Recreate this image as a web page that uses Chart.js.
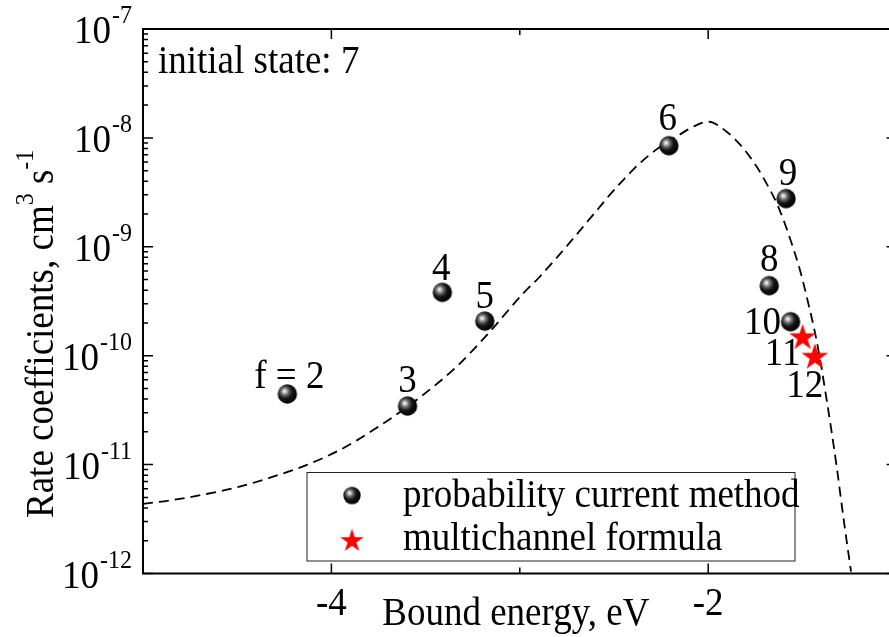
<!DOCTYPE html>
<html>
<head>
<meta charset="utf-8">
<title>Rate coefficients vs bound energy</title>
<script src="https://cdn.jsdelivr.net/npm/chart.js@4.4.0/dist/chart.umd.min.js"></script>
<style>
  html, body { margin: 0; padding: 0; overflow: hidden; background: #fff; }
</style>
</head>
<body>
<canvas id="rateChart" width="889" height="637"></canvas>
<script>
// ── data: bound energy (eV) vs rate coefficient (cm^3 s^-1) ──

// probability current method (final states f)
const stateLabels = ['f = 2', '3', '4', '5', '6', '9', '8', '10'];
const stateEnergy = [-4.234, -3.596, -3.411, -3.186, -2.209, -1.587, -1.676, -1.563];
const stateRate = [4.45e-11, 3.45e-11, 3.82e-10, 2.08e-10, 8.48e-9, 2.77e-9, 4.40e-10, 2.05e-10];

// multichannel formula
const formulaLabels = ['11', '12'];
const formulaEnergy = [-1.499, -1.434];
const formulaRate = [1.48e-10, 9.8e-11];

// dashed curve
const curveEnergy = [-5.0, -4.841, -4.664, -4.487, -4.310, -4.133, -3.956, -3.867, -3.761, -3.673,
    -3.514, -3.336, -3.159, -2.982, -2.894, -2.575, -2.531, -2.451, -2.363, -2.266,
    -2.168, -2.062, -2.000, -1.902, -1.814, -1.743, -1.681, -1.628, -1.575, -1.513,
    -1.478, -1.424, -1.371, -1.318, -1.283, -1.242];
const curveRate = [4.35e-12, 4.73e-12, 5.37e-12, 6.27e-12, 7.74e-12, 9.9e-12, 1.36e-11, 1.66e-11, 2.17e-11, 2.74e-11,
    4.36e-11, 7.92e-11, 1.66e-10, 3.74e-10, 5.31e-10, 2.33e-9, 2.88e-9, 4.10e-9, 5.85e-9, 8.02e-9,
    1.03e-8, 1.31e-8, 1.41e-8, 1.14e-8, 8.02e-9, 5.45e-9, 3.56e-9, 2.33e-9, 1.33e-9, 6.12e-10,
    3.53e-10, 1.36e-10, 3.92e-11, 9.57e-12, 3.33e-12, 1.04e-12];

// axis range: the frame runs from -5 to -1 eV, the picture is cut just before -1
const xFrame = [-5, -1];
const xView = [-5, -1.0403];
const xTicks = [-4, -2];
const yTicks = [1e-12, 1e-11, 1e-10, 1e-9, 1e-8, 1e-7];
const noteText = 'initial state: 7';
const xTitle = 'Bound energy, eV';

const FONT = "'Liberation Serif', 'Times New Roman', serif";
const TEXT_STRETCH = 1.06; // glyphs in the figure are a little taller than wide

// label placement relative to each marker: [dx, dy(baseline)]
const stateLabelOffsets = [[2, -6], [0, -14], [-1, -12], [0, -13], [-1, -16], [2, -14], [0, -15], [-28, 12]];
const formulaLabelOffsets = [[-20, 28], [-10, 40]];

// shaded ball marker
function makeSphere(r) {
    const s = Math.ceil(r * 2) + 2;
    const c = document.createElement('canvas');
    c.width = c.height = s;
    const g = c.getContext('2d');
    const cx = s / 2, cy = s / 2;
    const grad = g.createRadialGradient(cx - r * 0.3, cy - r * 0.3, 0, cx - r * 0.2, cy - r * 0.2, r * 1.2);
    grad.addColorStop(0, '#ffffff');
    grad.addColorStop(0.12, '#d4d4d4');
    grad.addColorStop(0.32, '#6e6e6e');
    grad.addColorStop(0.6, '#161616');
    grad.addColorStop(1, '#000000');
    g.fillStyle = grad;
    g.beginPath();
    g.arc(cx, cy, r, 0, Math.PI * 2);
    g.fill();
    return c;
}

// filled five-point star marker
function makeStar(R, color) {
    const s = Math.ceil(R * 2) + 2;
    const c = document.createElement('canvas');
    c.width = c.height = s;
    const g = c.getContext('2d');
    const cx = s / 2, cy = s / 2 + R * 0.05;
    g.fillStyle = color;
    g.beginPath();
    for (let i = 0; i < 10; i++) {
        const ang = -Math.PI / 2 + i * Math.PI / 5;
        const rad = i % 2 ? R * 0.382 : R;
        g.lineTo(cx + rad * Math.cos(ang), cy + rad * Math.sin(ang));
    }
    g.closePath();
    g.fill();
    return c;
}

const sphere = makeSphere(9.7);
const star = makeStar(14, '#ff0000');
const legendSphere = makeSphere(8.7);
const legendStar = makeStar(12.3, '#ff0000');

function text(ctx, s, x, y, size, align) {
    ctx.font = size + 'px ' + FONT;
    ctx.textAlign = align || 'left';
    ctx.textBaseline = 'alphabetic';
    ctx.save();
    ctx.translate(x, y);
    ctx.scale(1, TEXT_STRETCH);
    ctx.fillText(s, 0, 0);
    ctx.restore();
}

// frame, inward ticks, labels, legend box
const framePlugin = {
    id: 'frame',
    afterDatasetsDraw(chart) {
        const { ctx, chartArea: a, scales: { x, y } } = chart;
        const left = x.getPixelForValue(xFrame[0]);
        const right = x.getPixelForValue(xFrame[1]);
        ctx.save();
        ctx.strokeStyle = '#000';
        ctx.fillStyle = '#000';

        ctx.lineWidth = 1.5;
        ctx.beginPath();
        for (let v = xFrame[0]; v <= xFrame[1]; v++) {
            const px = x.getPixelForValue(v);
            const len = xTicks.includes(v) ? 10 : 6;
            ctx.moveTo(px, a.bottom); ctx.lineTo(px, a.bottom - len);
            ctx.moveTo(px, a.top); ctx.lineTo(px, a.top + len);
        }
        yTicks.forEach((base) => {
            for (let k = 1; k <= 9; k++) {
                const v = base * k;
                if (v > y.max * 1.0001) break;
                const py = y.getPixelForValue(v);
                const len = k === 1 ? 10 : 5;
                ctx.moveTo(left, py); ctx.lineTo(left + len, py);
                ctx.moveTo(right, py); ctx.lineTo(right - len, py);
            }
        });
        ctx.stroke();

        ctx.lineWidth = 2;
        ctx.strokeRect(left, a.top, right - left, a.bottom - a.top);

        // y tick labels 10^n
        yTicks.forEach((v) => {
            const py = y.getPixelForValue(v);
            const exp = String(Math.round(Math.log10(v)));
            ctx.font = '24px ' + FONT;
            const we = ctx.measureText(exp).width;
            const r = left - 11;
            text(ctx, exp, r, py - 6, 24, 'right');
            text(ctx, '10', r - we - 1, py + 14, 37, 'right');
        });

        // x tick labels
        xTicks.forEach((v) => {
            text(ctx, String(v), x.getPixelForValue(v), a.bottom + 41, 37, 'center');
        });

        // axis titles
        text(ctx, xTitle, (left + right) / 2 - 4, a.bottom + 51.5, 37, 'center');

        ctx.save();
        ctx.translate(left - 90, a.bottom - 55.5);
        ctx.rotate(-Math.PI / 2);
        let cx = 0;
        const parts = [['Rate coefficients, cm', 37, 0], ['3', 24, -20], [' s', 37, 0], ['-1', 24, -20]];
        parts.forEach(([s, size, dy]) => {
            text(ctx, s, cx, dy, size, 'left');
            cx += ctx.measureText(s).width;
        });
        ctx.restore();

        text(ctx, noteText, left + 15, a.top + 44, 37, 'left');

        // point labels
        const m0 = chart.getDatasetMeta(0).data;
        stateLabels.forEach((s, i) => {
            const [dx, dy] = stateLabelOffsets[i];
            text(ctx, s, m0[i].x + dx, m0[i].y + dy, 37, 'center');
        });
        const m1 = chart.getDatasetMeta(1).data;
        formulaLabels.forEach((s, i) => {
            const [dx, dy] = formulaLabelOffsets[i];
            text(ctx, s, m1[i].x + dx, m1[i].y + dy, 37, 'center');
        });

        // legend box
        const lg = { left: left + 164, top: a.bottom - 101, w: 488, h: 88.5 };
        ctx.fillStyle = '#fff';
        ctx.fillRect(lg.left, lg.top, lg.w, lg.h);
        ctx.lineWidth = 1;
        ctx.strokeStyle = '#222';
        ctx.strokeRect(lg.left, lg.top, lg.w, lg.h);
        ctx.fillStyle = '#000';
        const ds = chart.data.datasets;
        [[legendSphere, ds[0].label, 23, 34.5], [legendStar, ds[1].label, 68, 77.5]].forEach(([img, label, my, ty]) => {
            ctx.drawImage(img, lg.left + 45 - img.width / 2, lg.top + my - img.height / 2);
            text(ctx, label, lg.left + 96, lg.top + ty, 37, 'left');
        });

        ctx.restore();
    },
};

new Chart(document.getElementById('rateChart'), {
    type: 'scatter',
    data: {
        datasets: [
            {
                label: 'probability current method',
                data: stateEnergy.map((e, i) => ({ x: e, y: stateRate[i] })),
                pointStyle: sphere,
                pointRadius: 10,
                order: 2,
            },
            {
                label: 'multichannel formula',
                data: formulaEnergy.map((e, i) => ({ x: e, y: formulaRate[i] })),
                pointStyle: star,
                pointRadius: 12,
                order: 1,
            },
            {
                label: 'curve',
                data: curveEnergy.map((e, i) => ({ x: e, y: curveRate[i] })),
                showLine: true,
                borderColor: '#000',
                borderWidth: 1.8,
                borderDash: [10, 6],
                pointRadius: 0,
                cubicInterpolationMode: 'monotone',
                order: 3,
            },
        ],
    },
    options: {
        responsive: false,
        animation: false,
        layout: { autoPadding: false, padding: { left: 143, right: 0, top: 29, bottom: 63.5 } },
        plugins: {
            legend: { display: false },
            tooltip: { enabled: false },
        },
        scales: {
            x: { type: 'linear', min: xView[0], max: xView[1], display: false },
            y: { type: 'logarithmic', min: 1e-12, max: 1e-7, display: false },
        },
    },
    plugins: [framePlugin],
});
</script>
</body>
</html>
